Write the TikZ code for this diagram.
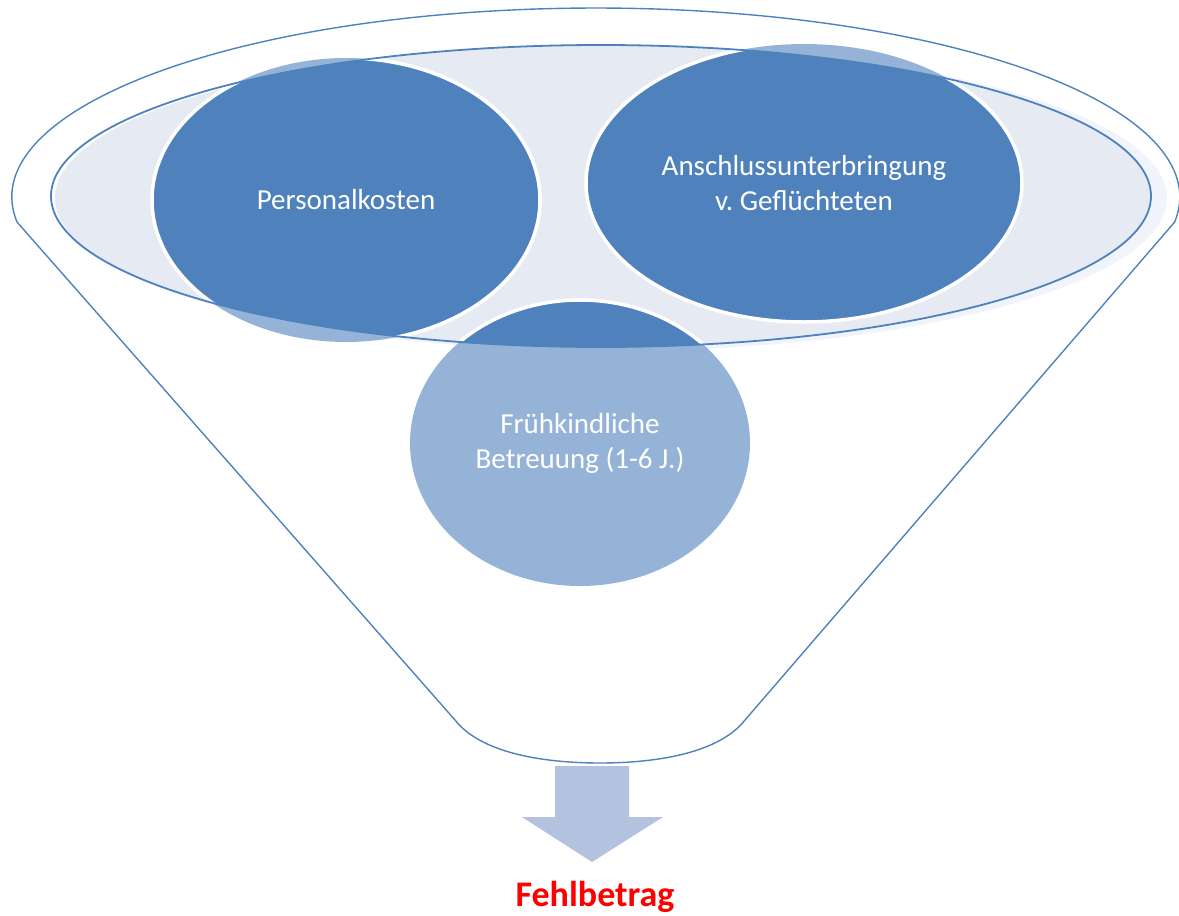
\documentclass[tikz,border=0pt]{standalone}
\usepackage{fontspec}
\setmainfont{Carlito}
\usepackage{tikz}
\usetikzlibrary{calc,positioning}
\frenchspacing
\definecolor{rimblue}{RGB}{79,129,189}
\definecolor{darkbubble}{RGB}{79,129,189}
\definecolor{lightbubble}{RGB}{149,179,215}
\definecolor{bowlfill}{RGB}{229,234,243}
\definecolor{bowlglow}{RGB}{241,244,250}
\definecolor{spoutfill}{RGB}{179,194,222}
\tikzset{
    rim/.style = {draw=rimblue, line width=1.4pt},
    bubble/.style = {fill=darkbubble, draw=white, line width=3.5pt},
    bubbletext/.style = {text=white, align=center, inner sep=0pt,
        font=\fontsize{29}{35}\selectfont},
    sumtext/.style = {text=red, inner sep=0pt,
        font=\fontsize{36}{43}\selectfont\bfseries}
}

\begin{document}
\begin{tikzpicture}[x=1pt, y=-1pt]
\useasboundingbox (0,0) rectangle (1179,916);
 \coordinate (bowl) at (601,196);
 \coordinate (pk) at (346,200);
 \coordinate (au) at (804,183);
 \coordinate (fb) at (580,443);

 % bowl of the funnel
 \fill[bowlglow] (611,198) ellipse [x radius=556, y radius=153];
 \begin{scope}
   \clip (bowl) ellipse [x radius=550, y radius=151];
   \fill[bowlfill] (611,198) ellipse [x radius=556, y radius=153];
 \end{scope}

 % bubbles, lighter where they leave the bowl
 \fill[lightbubble] (pk) ellipse [x radius=194, y radius=142];
 \fill[lightbubble] (au) ellipse [x radius=218, y radius=139];
 \fill[lightbubble] (fb) ellipse [x radius=170, y radius=143];
 \begin{scope}
   \clip (bowl) ellipse [x radius=550, y radius=151];
   \filldraw[bubble] (pk) ellipse [x radius=194, y radius=142];
   \filldraw[bubble] (au) ellipse [x radius=218, y radius=139];
   \filldraw[bubble] (fb) ellipse [x radius=170, y radius=143];
 \end{scope}
 \draw[rim, line width=1.8pt] (bowl) ellipse [x radius=550, y radius=151];

 % funnel outline
 \draw[rim] (17,222) arc [start angle=172.4, end angle=367.6, x radius=584, y radius=189]
    -- (745,720) .. controls (720,752) and (660,763) .. (600,763)
    .. controls (540,763) and (480,752) .. (455,720) -- cycle;

 % spout
 \coordinate (spout) at (592,766);
 \fill[spoutfill] ($(spout)+(-37,0)$) -- ($(spout)+(37,0)$) -- ($(spout)+(37,51)$)
    -- ($(spout)+(71,51)$) -- ($(spout)+(0,96)$) -- ($(spout)+(-70,51)$)
    -- ($(spout)+(-37,51)$) -- cycle;

 \node[bubbletext] (pktext) at (pk) {Personalkosten};
 \node[bubbletext] (autext) at (au) {Anschlussunterbringung\\v. Geflüchteten};
 \node[bubbletext] (fbtext) at (fb) {Frühkindliche\\Betreuung (1-6 J.)};
 \node[sumtext, anchor=base] (gap) at (595,906) {Fehlbetrag};
\end{tikzpicture}
\end{document}
